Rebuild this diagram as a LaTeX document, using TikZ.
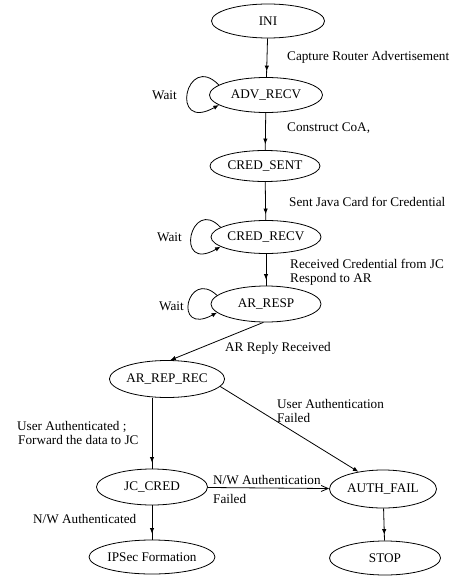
\documentclass[tikz,border=0pt]{standalone}
\usepackage{fontspec}
\setmainfont{Liberation Serif}
\usetikzlibrary{shapes.geometric,arrows.meta,decorations.markings}
\begin{document}
\begin{tikzpicture}[x=1bp,y=1bp,
  font=\fontsize{13.2bp}{14bp}\selectfont,
  state/.style={draw,ellipse,line width=0.8bp,inner sep=0pt},
  lbl/.style={anchor=west,inner sep=0pt,align=left},
  waitlbl/.style={anchor=east,inner sep=0pt},
  edge/.style={line width=0.8bp},
  tip/.style={-{Latex[length=5.5bp,width=4.5bp]}},
  midtip/.style={postaction={decorate},decoration={markings,
     mark=at position -6bp with {\arrow{Latex[length=5.5bp,width=4.5bp]}}}},
  opentip/.style={-{Straight Barb[length=7bp,width=6bp,line width=0.8bp]}}]
\useasboundingbox (0,0) rectangle (450,-577);

% states
\node[state,minimum width=113bp,minimum height=34bp] (ini)  at (268,-21)  {INI};
\node[state,minimum width=113bp,minimum height=35bp] (adv)  at (266,-95)  {ADV\_RECV};
\node[state,minimum width=110bp,minimum height=31bp] (cs)   at (265,-166) {CRED\_SENT};
\node[state,minimum width=110bp,minimum height=33bp] (cr)   at (266,-237) {CRED\_RECV};
\node[state,minimum width=110bp,minimum height=36bp] (ar)   at (266,-304) {AR\_RESP};
\node[state,minimum width=111bp,minimum height=37bp] (arr)  at (167,-379) {AR\_REP\_REC};
\node[state,minimum width=111bp,minimum height=36bp] (jc)   at (152,-487) {JC\_CRED};
\node[state,minimum width=107bp,minimum height=38bp] (af)   at (383,-489) {AUTH\_FAIL};
\node[state,minimum width=111bp,minimum height=34bp] (ip)   at (152,-557) {IPSec Formation};
\node[state,minimum width=111bp,minimum height=34bp] (stop) at (385,-558) {STOP};

% main transitions
\draw[edge,midtip] (ini) -- (adv);
\draw[edge,midtip] (adv) -- (cs);
\draw[edge,midtip] (cs) -- (cr);
\draw[edge,midtip] (cr) -- (ar);
\draw[edge,tip] (ar.262) -- (arr.80);
\draw[edge,midtip] (jc |- arr.south) -- (jc);
\draw[edge,tip] (arr.-8) -- (af.145);
\draw[edge,opentip] (jc) -- (af);
\draw[edge,midtip] (jc) -- (ip);
\draw[edge,midtip] (af) -- (stop);

% self loops
\draw[edge,tip] (adv.168) .. controls +(-33,34) and +(-50,-28) .. (adv.192);
\draw[edge,tip] (cr.168) .. controls +(-30,32) and +(-47,-27) .. (cr.192);
\draw[edge,tip] (ar.170) .. controls +(-30,28) and +(-45,-24) .. (ar.190);
\node[waitlbl] (w1) at (177,-95)  {Wait};
\node[waitlbl] (w2) at (182,-237) {Wait};
\node[waitlbl] (w3) at (184,-306) {Wait};

% transition labels
\node[lbl] (l1) at (287,-57)  {Capture Router Advertisement};
\node[lbl] (l2) at (287,-128) {Construct CoA,};
\node[lbl] (l3) at (289,-202) {Sent Java Card for Credential};
\node[lbl] (l4) at (290,-272) {Received Credential from JC\\Respond to AR};
\node[lbl] (l5) at (225,-348) {AR Reply Received};
\node[lbl] (l6) at (277,-410.5) {User Authentication\\Failed};
\node[lbl] (l7) at (17,-433)  {User Authenticated ;\\\hspace{1bp}Forward the data to JC};
\node[lbl] (l8) at (213,-480) {N/W Authentication};
\node[lbl] (l9) at (213,-499) {Failed};
\node[lbl] (l10) at (33,-519) {N/W Authenticated};
\end{tikzpicture}
\end{document}
